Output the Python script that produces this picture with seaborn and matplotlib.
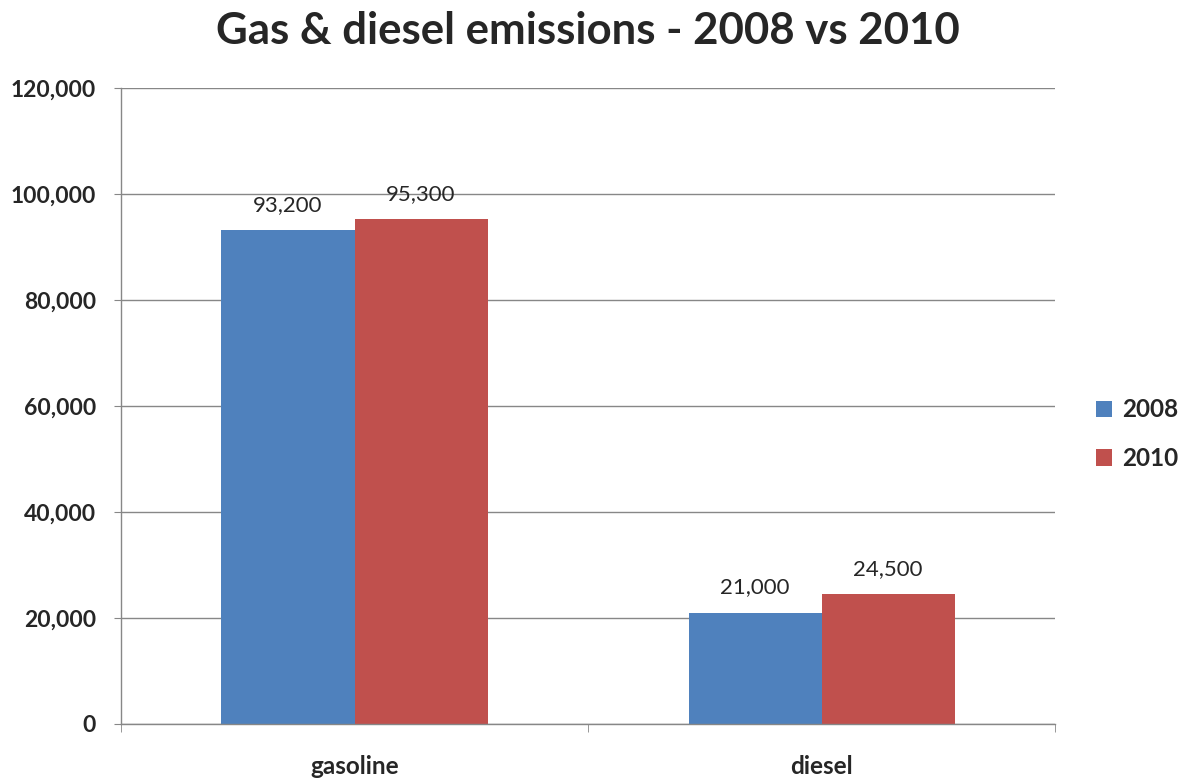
import matplotlib
matplotlib.use("Agg")
import matplotlib.pyplot as plt
import seaborn as sns
import pandas as pd
from matplotlib.ticker import FuncFormatter, FixedLocator
from matplotlib.patches import Patch

categories = ["gasoline", "diesel"]
years = ["2008", "2010"]
values_2008 = [93200, 21000]
values_2010 = [95300, 24500]
colors = ["#4F81BD", "#C0504D"]
title = "Gas & diesel emissions - 2008 vs 2010"

df = pd.DataFrame({
    "fuel": categories * 2,
    "year": [years[0]] * 2 + [years[1]] * 2,
    "value": values_2008 + values_2010,
})

sns.set_style("white")
plt.rcParams["font.family"] = ["Lato", "DejaVu Sans"]

fig = plt.figure(figsize=(11.9, 7.81), dpi=100)
ax = fig.add_axes([0.1017, 0.0730, 0.785, 0.8143])

sns.barplot(data=df, x="fuel", y="value", hue="year", order=categories,
            hue_order=years, palette=colors, width=0.57, ax=ax,
            edgecolor="none", saturation=1, legend=False, errorbar=None)

ax.set_xlim(-0.5, 1.5)
ax.set_ylim(0, 120000)
ax.set_yticks(range(0, 120001, 20000))
ax.yaxis.set_major_formatter(FuncFormatter(lambda v, p: f"{int(v):,}"))
ax.grid(axis="y", color="#878787", linewidth=1)
ax.set_axisbelow(True)
for s in ["top", "right"]:
    ax.spines[s].set_visible(False)
for s in ["left", "bottom"]:
    ax.spines[s].set_color("#878787")
    ax.spines[s].set_linewidth(1)

ax.set_xlabel("")
ax.set_ylabel("")
ax.tick_params(axis="y", which="major", length=5, color="#878787", direction="out",
               left=True, labelsize=16.5, pad=13)
for lab in ax.get_yticklabels():
    lab.set_fontweight("bold")

# x tick labels at centers without marks, tick marks at boundaries
ax.set_xticks([0, 1])
ax.set_xticklabels(categories, fontsize=17.5, fontweight="bold")
ax.tick_params(axis="x", which="major", length=0, pad=22)
ax.xaxis.set_minor_locator(FixedLocator([-0.5, 0.5, 1.5]))
ax.tick_params(axis="x", which="minor", length=6, color="#878787", direction="out", bottom=True)

for cont in ax.containers:
    ax.bar_label(cont, labels=[f"{int(v):,}" for v in cont.datavalues],
                 padding=11, fontsize=16)

ax.set_title(title, fontsize=31.5, fontweight="bold", pad=32)

handles = [Patch(facecolor=c, edgecolor="none") for c in colors]
leg = fig.legend(handles, years, loc="center left", bbox_to_anchor=(0.903, 0.444),
                 frameon=False, handlelength=0.65, handleheight=0.65,
                 handletextpad=0.4, labelspacing=1.05, prop={"size": 17.5, "weight": "bold"})

fig.savefig("out.png", dpi=100)
